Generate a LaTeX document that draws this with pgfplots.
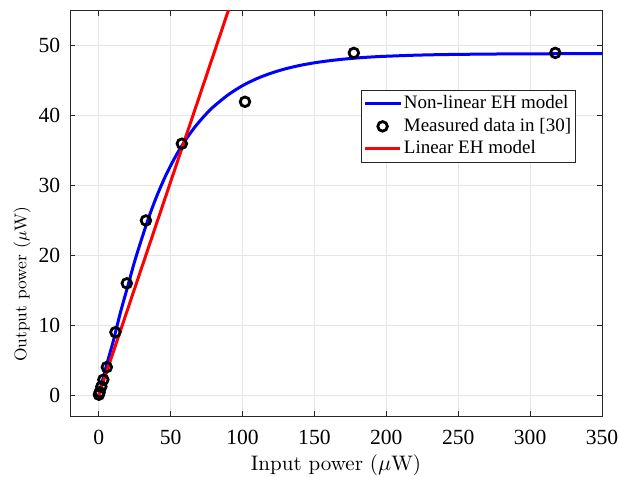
\documentclass[border=0pt]{standalone}
\usepackage{fontspec}
\usepackage{pgfplots}
\pgfplotsset{compat=1.18}
\newfontfamily\timesfont{Liberation Serif}

\begin{document}
\begin{tikzpicture}
\begin{axis}[
  name=ax,
  scale only axis,
  width=266pt, height=202.5pt,
  xmin=-20, xmax=350, ymin=-3, ymax=55,
  xtick={0,50,...,350}, ytick={0,10,...,50},
  tick align=inside, major tick length=2.5pt,
  axis line style={draw=black!85, line width=0.5pt},
  every tick/.style={black!85, line width=0.5pt},
  grid=major, major grid style={gray!20, line width=0.5pt},
  /pgf/number format/assume math mode=true,
  tick label style={font=\timesfont\fontsize{10.8}{12}\selectfont},
  xticklabel style={yshift=-3.4pt},
  yticklabel style={xshift=-1.4pt},
  xlabel={Input power ($\mu$W)},
  ylabel={Output power ($\mu$W)},
  xlabel style={font=\fontsize{10.5}{12}\selectfont, at={(axis description cs:0.5,-0.121)}, anchor=center},
  ylabel style={font=\fontsize{8.5}{10}\selectfont, at={(axis description cs:-0.0902,0.325)}, anchor=center},
  legend style={at={(axis description cs:0.951,0.805)}, anchor=north east,
    draw=black!85, line width=0.5pt,
    font=\timesfont\fontsize{9.5}{11}\selectfont,
    inner xsep=1pt, inner ysep=1pt, row sep=0pt,
    nodes={inner sep=1.15pt, text height=7pt, text depth=2pt}},
  legend cell align=left,
  legend image code/.code={\draw[mark repeat=2,mark phase=2,#1] plot coordinates {(0pt,0pt) (8.75pt,0pt) (17.5pt,0pt)};},
]
% logistic energy-harvesting curve
\addplot[blue, line width=1.5pt, smooth] coordinates {
  (0,0) (5,3.98) (10,7.65) (15,11.76) (20,15.46) (25,19.17) (30,22.46)
  (35,25.57) (40,28.31) (45,30.73) (50,32.86) (55,34.75) (60,36.41)
  (65,37.88) (70,39.17) (75,40.32) (80,41.33) (90,43.0) (100,44.31)
  (110,45.32) (120,46.11) (130,46.73) (140,47.21) (150,47.58) (160,47.87)
  (170,48.1) (180,48.28) (190,48.42) (200,48.52) (220,48.67) (240,48.76)
  (270,48.83) (300,48.87) (350,48.89)
};
\addlegendentry{Non-linear EH model}
% measurements
\addplot[only marks, mark=o, mark size=2.4pt, black, line width=1.4pt] coordinates {
  (0.1,0.05) (0.6,0.4) (1.8,1.2) (3.2,2.2) (5.6,4) (11.6,9) (19.5,16)
  (32.8,25) (57.8,36) (101.7,42) (177.4,49) (317.5,49)
};
\addlegendentry{Measured data in [30]}
% linear model
\addplot[red, line width=1.5pt] coordinates {(0,0) (95,58.05)};
\addlegendentry{Linear EH model}
\end{axis}
\pgfresetboundingbox
\path ([shift={(-35pt,-30pt)}]ax.south west) rectangle ([shift={(8.5pt,5.5pt)}]ax.north east);
\end{tikzpicture}
\end{document}
